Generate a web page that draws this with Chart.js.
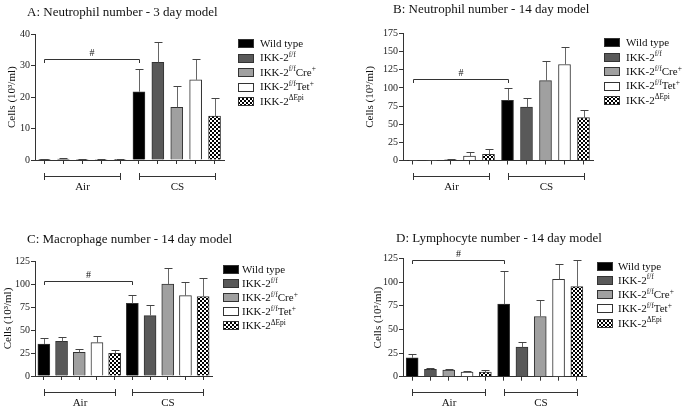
<!DOCTYPE html>
<html>
<head>
<meta charset="utf-8">
<script src="https://cdn.jsdelivr.net/npm/chart.js@4.4.1/dist/chart.umd.min.js"></script>
<style>
    html, body { margin: 0; padding: 0; background: #fff; }
    #wrap { position: relative; width: 686px; height: 407px; overflow: hidden; }
    canvas { position: absolute; }
</style>
</head>
<body>
<div id="wrap">
    <canvas id="panelA" width="343" height="200" style="left:0;top:0"></canvas>
    <canvas id="panelB" width="343" height="200" style="left:343px;top:0"></canvas>
    <canvas id="panelC" width="343" height="207" style="left:0;top:200px"></canvas>
    <canvas id="panelD" width="343" height="207" style="left:343px;top:200px"></canvas>
</div>
<script>
// ===== DATA =====
const groups = ['Air', 'CS'];
const genotypes = ['Wild type', 'IKK-2^{f/f}', 'IKK-2^{f/f}Cre^{+}', 'IKK-2^{f/f}Tet^{+}', 'IKK-2^{ΔEpi}'];
const categories = groups.flatMap(g => genotypes.map(t => g + ' ' + t.replace(/[\^{}]/g, '')));

const titles = [
    'A: Neutrophil number - 3 day model',
    'B: Neutrophil number - 14 day model',
    'C: Macrophage number - 14 day model',
    'D: Lymphocyte number - 14 day model'
];
const yAxisTitle = 'Cells (10³/ml)';
const yMax = [40, 175, 125, 125];
const yStep = [10, 25, 25, 25];
const hashBracket = [32.2, 112.5, 103.6, 123];   // value of the "#" bracket line

// mean and upper error (SEM) per category: Air x5 then CS x5
const neutro3Mean = [0.1, 0.3, 0.1, 0.2, 0.1, 21.7, 31.1, 16.8, 25.5, 14.0];
const neutro3Err  = [0.1, 0.2, 0.1, 0.1, 0.1, 7.2, 6.6, 6.6, 6.7, 5.6];
const neutro14Mean = [0.2, 0.2, 1.0, 6.2, 8.5, 83.0, 73.5, 110.0, 132.3, 59.3];
const neutro14Err  = [0.1, 0.1, 0.6, 5.5, 7.3, 16.3, 12.0, 26.8, 24.3, 9.6];
const macroMean = [34.8, 37.7, 25.7, 36.2, 24.6, 79.0, 65.6, 100.0, 87.3, 86.2];
const macroErr  = [6.5, 4.3, 4.0, 6.9, 3.3, 8.7, 11.2, 17.0, 14.9, 20.0];
const lymphoMean = [20.0, 7.7, 7.0, 4.9, 4.9, 76.7, 31.2, 63.7, 103.0, 95.2];
const lymphoErr  = [4.5, 1.8, 1.4, 0.7, 1.8, 35.0, 5.6, 17.5, 16.4, 28.0];

// ===== STYLE =====
const SERIF = '"Liberation Serif", "Times New Roman", serif';
const INK = '#333';

function checkerPattern() {
    const c = document.createElement('canvas');
    c.width = 4; c.height = 4;
    const g = c.getContext('2d');
    g.fillStyle = '#fff';
    g.fillRect(0, 0, 4, 4);
    g.fillStyle = '#000';
    g.fillRect(0, 0, 2, 2);
    g.fillRect(2, 2, 2, 2);
    return document.createElement('canvas').getContext('2d').createPattern(c, 'repeat');
}
const checker = checkerPattern();
const genotypeFills = ['#000000', '#595959', '#a0a0a0', '#ffffff', checker];
const barFills = groups.flatMap(() => genotypeFills);

// text with ^{superscript} parts, left aligned at baseline y
function drawRich(ctx, text, x, y, size) {
    const parts = text.split(/(\^\{[^}]*\})/).filter(Boolean);
    parts.forEach(p => {
        const sup = p.startsWith('^{');
        const s = sup ? p.slice(2, -1) : p;
        ctx.font = (sup ? size * 0.68 : size) + 'px ' + SERIF;
        ctx.fillText(s, x, sup ? y - size * 0.4 : y);
        x += ctx.measureText(s).width;
    });
}

// ===== PANELS =====
const panels = [
    { id: 'panelA', mean: neutro3Mean, err: neutro3Err, area: { l: 35, t: 34.3, r: 224, b: 160 },
      titleX: 27, titleY: 15.5, yTitleX: 12, legend: { x: 238, y: 43, step: 14.5, textX: 260 } },
    { id: 'panelB', mean: neutro14Mean, err: neutro14Err, area: { l: 60, t: 33.5, r: 250, b: 160.5 },
      titleX: 50, titleY: 12.7, yTitleX: 27, legend: { x: 261, y: 42.3, step: 14.4, textX: 283 } },
    { id: 'panelC', mean: macroMean, err: macroErr, area: { l: 35, t: 61, r: 212, b: 176 },
      titleX: 27, titleY: 43, yTitleX: 8, legend: { x: 223, y: 69, step: 14.1, textX: 242 } },
    { id: 'panelD', mean: lymphoMean, err: lymphoErr, area: { l: 60, t: 58.5, r: 243, b: 176.7 },
      titleX: 53, titleY: 41.7, yTitleX: 35, legend: { x: 254, y: 65.7, step: 14.25, textX: 275 } }
];

function makePanel(p, i) {
    const canvas = document.getElementById(p.id);
    const W = canvas.width, H = canvas.height;
    const a = p.area;

    const decorations = {
        id: 'decorations',
        afterDatasetsDraw(chart) {
            // error bars (upper only)
            const ctx = chart.ctx;
            const y = chart.scales.y;
            const bars = chart.getDatasetMeta(0).data;
            ctx.save();
            ctx.lineWidth = 1;
            bars.forEach((bar, k) => {
                const x = Math.round(bar.x) + 0.5;
                const y0 = y.getPixelForValue(p.mean[k]);
                const y1 = Math.round(y.getPixelForValue(p.mean[k] + p.err[k])) + 0.5;
                ctx.strokeStyle = '#666';
                ctx.beginPath();
                ctx.moveTo(x, y0);
                ctx.lineTo(x, y1);
                ctx.stroke();
                ctx.strokeStyle = '#444';
                ctx.beginPath();
                ctx.moveTo(x - 4, y1);
                ctx.lineTo(x + 4, y1);
                ctx.stroke();
            });
            ctx.restore();
        },
        afterDraw(chart) {
            const ctx = chart.ctx;
            const xs = chart.scales.x, ys = chart.scales.y;
            const ca = chart.chartArea;
            const cx = k => Math.round(xs.getPixelForValue(k)) + 0.5;
            ctx.save();
            ctx.fillStyle = '#111';
            ctx.strokeStyle = INK;
            ctx.lineWidth = 1;

            // panel title
            ctx.font = '13px ' + SERIF;
            ctx.textAlign = 'left';
            ctx.textBaseline = 'alphabetic';
            ctx.fillText(titles[i], p.titleX, p.titleY);

            // y axis title
            ctx.save();
            ctx.translate(p.yTitleX, (ca.top + ca.bottom) / 2);
            ctx.rotate(-Math.PI / 2);
            ctx.font = '11px ' + SERIF;
            ctx.textAlign = 'center';
            ctx.textBaseline = 'middle';
            ctx.fillText(yAxisTitle, 0, 0);
            ctx.restore();

            // "#" bracket from Air wild type to CS wild type
            const hy = Math.round(ys.getPixelForValue(hashBracket[i])) + 0.5;
            const hx0 = cx(0), hx1 = cx(genotypes.length);
            ctx.beginPath();
            ctx.moveTo(hx0, hy + 3.5);
            ctx.lineTo(hx0, hy);
            ctx.lineTo(hx1, hy);
            ctx.lineTo(hx1, hy + 3.5);
            ctx.stroke();
            ctx.font = '10px ' + SERIF;
            ctx.textAlign = 'center';
            ctx.fillText('#', (hx0 + hx1) / 2, hy - 4);

            // group brackets under the axis
            const gy = Math.round(ca.bottom + 15.5) + 0.5;
            groups.forEach((g, gi) => {
                const x0 = cx(gi * genotypes.length);
                const x1 = cx(gi * genotypes.length + genotypes.length - 1);
                ctx.beginPath();
                ctx.moveTo(x0, gy);
                ctx.lineTo(x1, gy);
                ctx.moveTo(x0, gy - 3.5);
                ctx.lineTo(x0, gy + 3.5);
                ctx.moveTo(x1, gy - 3.5);
                ctx.lineTo(x1, gy + 3.5);
                ctx.stroke();
                ctx.font = '11px ' + SERIF;
                ctx.textAlign = 'center';
                ctx.textBaseline = 'middle';
                ctx.fillText(g, (x0 + x1) / 2, gy + 10.5);
            });

            // legend
            const lg = p.legend;
            ctx.textAlign = 'left';
            ctx.textBaseline = 'alphabetic';
            genotypes.forEach((label, k) => {
                const my = lg.y + k * lg.step;
                const by = Math.round(my - 4) + 0.5;
                ctx.fillStyle = genotypeFills[k];
                ctx.fillRect(lg.x + 0.5, by, 15, 8);
                ctx.strokeRect(lg.x + 0.5, by, 15, 8);
                ctx.fillStyle = '#111';
                drawRich(ctx, label, lg.textX, my + 3.8, 11);
            });
            ctx.restore();
        }
    };

    new Chart(canvas.getContext('2d'), {
        type: 'bar',
        data: {
            labels: categories,
            datasets: [{
                data: p.mean,
                backgroundColor: barFills,
                borderColor: INK,
                borderWidth: 1,
                barThickness: 12
            }]
        },
        options: {
            responsive: false,
            animation: false,
            events: [],
            layout: { padding: { left: 0, top: a.t, right: W - a.r, bottom: 0 } },
            plugins: {
                legend: { display: false },
                tooltip: { enabled: false }
            },
            scales: {
                x: {
                    offset: true,
                    grid: { offset: false, drawOnChartArea: false, tickLength: 4, color: INK },
                    border: { color: INK },
                    ticks: { display: false },
                    afterFit(s) { s.height = H - a.b; }
                },
                y: {
                    min: 0,
                    max: yMax[i],
                    ticks: { stepSize: yStep[i], color: '#222', padding: 1, font: { family: SERIF, size: 10 } },
                    grid: { drawOnChartArea: false, tickLength: 4, color: INK },
                    border: { color: INK },
                    afterFit(s) { s.width = a.l; }
                }
            }
        },
        plugins: [decorations]
    });
}

panels.forEach(makePanel);
</script>
</body>
</html>
